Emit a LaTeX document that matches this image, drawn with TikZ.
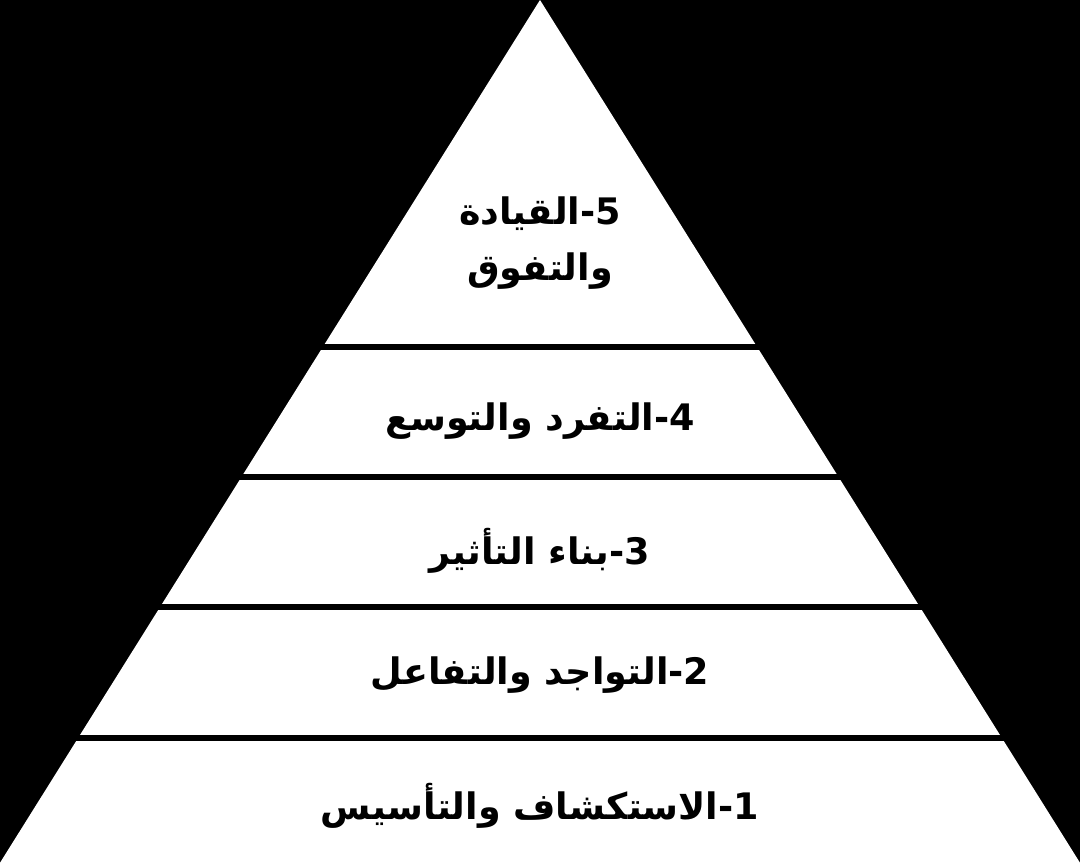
\documentclass[tikz,border=0pt]{standalone}
\usepackage{fontspec}
\usepackage{tikz}
\TeXXeTstate=1
\newfontfamily\arabicfont[Script=Arabic]{DejaVu Sans}
\tikzset{level/.style={font=\arabicfont\bfseries\fontsize{36.5}{56}\selectfont, text=black, align=center}}

\begin{document}
\begin{tikzpicture}[x=1pt,y=-1pt]
	\useasboundingbox (0,0) rectangle (1080,866);
	% Background and pyramid
	\fill[black] (0,0) rectangle (1080,866);
	\fill[white] (540,0) -- (1082,866) -- (-2,866) -- cycle;
	% Dividers between the tiers
	\foreach \y in {347,477,607,738}
		\draw[line width=5.5pt] (0,\y) -- (1080,\y);
	% Tier labels
	\node[level] (tier5) at (540,243) {\beginR 5-القيادة\endR\\\beginR والتفوق\endR};
	\node[level] (tier4) at (540,421) {\beginR 4-التفرد والتوسع\endR};
	\node[level] (tier3) at (540,551) {\beginR 3-بناء التأثير\endR};
	\node[level] (tier2) at (540,675) {\beginR 2-التواجد والتفاعل\endR};
	\node[level] (tier1) at (540,806) {\beginR 1-الاستكشاف والتأسيس\endR};
\end{tikzpicture}
\end{document}
